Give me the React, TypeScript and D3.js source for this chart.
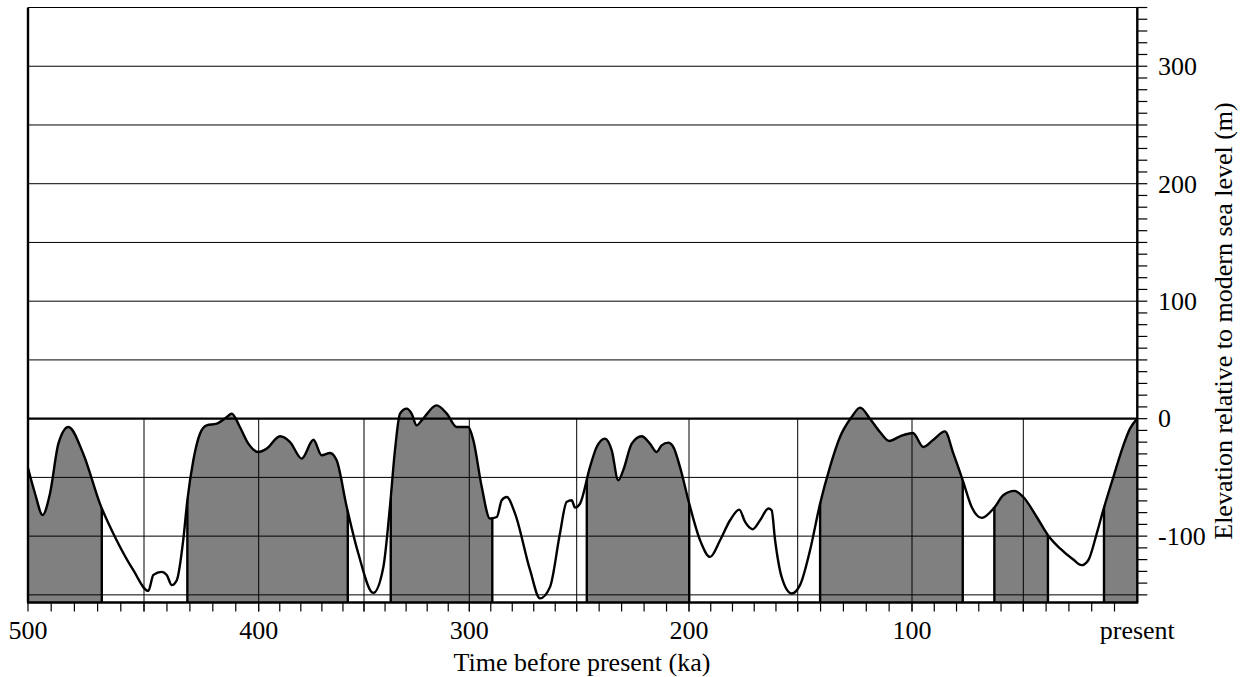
import React from 'react';
import * as d3 from 'd3';

// Time before present (ka) and sea level relative to modern (m)
const ages = [500, 497, 493.7, 490.5, 486.9, 482.6, 476.2, 469, 461.8, 454.6,
  448.1, 445.9, 442.3, 440.1, 437.9, 435.7, 432.9, 431.1, 428.5, 425.6,
  422.7, 418.3, 413.9, 411.8, 408.2, 404.5, 400.2, 396.2, 389.9, 385.1,
  379.6, 374.0, 370.1, 366.1, 363, 358.2, 352.7, 345.6, 340.8, 337.7,
  335.3, 332.9, 329.7, 327.4, 325, 322.6, 315.5, 310.7, 306, 300.5,
  298.1, 294.2, 290.4, 287.2, 284.9, 282.6, 278.7, 271.7, 267.1, 262.4,
  257.8, 254.7, 252.3, 250.8, 248.5, 244.1, 241.1, 237.4, 234.4, 231.5,
  229.3, 225.5, 221.1, 217.4, 214.4, 212.2, 209.2, 207, 204, 199.9,
  194.9, 190.3, 185.7, 181.1, 176.9, 174.2, 170.7, 167.3, 163.5, 162,
  160.4, 157.4, 152.8, 149, 144.6, 140.2, 135.9, 131.5, 126.4, 122.7,
  118.4, 114, 109.9, 105.2, 99.6, 94.9, 90.4, 85.2, 81.4, 77.2,
  73.2, 68.7, 63, 59, 54, 50, 44.1, 39.2, 33.9, 28.1,
  24.4, 21.5, 17.8, 14.6, 10.5, 6.1, 3.2, 0];

const levels = [-42, -63.5, -82, -63.5, -21.3, -7.1, -29.8, -72.3, -103.5, -129,
  -146.6, -133, -130.4, -133, -141.7, -137.5, -103.5, -69.5, -35.4, -12.8,
  -5.7, -4.3, 1.4, 4.3, -7.1, -21.3, -28.4, -25.5, -15, -19.9,
  -34, -18, -31.2, -29.2, -35.5, -75.2, -114.8, -148.3, -126.2, -75.2,
  -27, 4.3, 8.5, 4.3, -5.7, -1.4, 11.3, 4.3, -7.1, -7.1,
  -18.5, -58.2, -85, -83.7, -69.5, -66.7, -80.8, -129, -153, -143.2,
  -97.8, -70.9, -69.5, -75.7, -72.3, -41.2, -24.1, -17, -27, -52.5,
  -44, -21.3, -15, -21.3, -28.4, -22.7, -20.4, -24.1, -41.2, -72.3,
  -103.5, -117.7, -103.5, -86.5, -77.4, -87.9, -94.1, -86.5, -76.5, -78,
  -103.5, -134.7, -148.8, -141.7, -112, -72.3, -41.2, -15.6, 1.4, 9.4,
  0, -11.4, -19, -15, -12.2, -24.1, -17.9, -10.8, -29.8, -52.5,
  -75.2, -84.5, -75.7, -65.2, -61.5, -66.7, -83.7, -99.2, -110.5, -119.9,
  -124.7, -120.5, -97.8, -75.7, -49.7, -22.7, -8.5, 0];

// Shaded (interglacial) intervals, ka
const shadeStart = [500, 431.1, 337.3, 245.5, 140.2, 63, 14.6];
const shadeEnd = [468.2, 357.7, 289.3, 199.9, 77.2, 39.2, 0];

const gridKa = [500, 450, 400, 350, 300, 250, 200, 150, 100, 50, 0];
const xLabelValues = [500, 400, 300, 200, 100, 0];
const xLabelTexts = ['500', '400', '300', '200', '100', 'present'];
const yLabelValues = [300, 200, 100, 0, -100];

const X_TITLE = 'Time before present (ka)';
const Y_TITLE = 'Elevation relative to modern sea level (m)';

export default function App() {
  const W = 1241;
  const H = 677;
  const FONT = '"Liberation Serif", "Times New Roman", serif';
  const FS = 26;

  const x = d3.scaleLinear()
    .domain(gridKa)
    .range([28, 144, 258.7, 364, 469.3, 576.7, 689, 797.7, 912, 1023.3, 1137.3]);
  const yMin = -156.5;
  const yMax = 350;
  const y = d3.scaleLinear().domain([yMin, yMax]).range([602.5, 7.5]);

  const data = ages.map((a, i) => ({ a, v: levels[i] }));
  const line = d3.line<{ a: number; v: number }>()
    .x(d => x(d.a)).y(d => y(d.v)).curve(d3.curveMonotoneX);
  const area = d3.area<{ a: number; v: number }>()
    .x(d => x(d.a)).y0(y(yMin)).y1(d => y(d.v)).curve(d3.curveMonotoneX);

  const xL = x(500);
  const xR = x(0);
  const yB = y(yMin);
  const yT = y(yMax);
  const y0 = y(0);

  const hGrid = d3.range(-150, 301, 50);
  const vGrid = d3.range(50, 451, 50);
  const rTicks = d3.range(-150, 351, 10);
  const bTicks = d3.range(10, 501, 10);
  const boundaries = [...shadeStart, ...shadeEnd].filter(v => v !== 500 && v !== 0);

  return (
    <svg width={W} height={H} style={{ position: 'absolute', left: 0, top: 0, background: '#fff' }}
      fontFamily={FONT}>
      <defs>
        <clipPath id="under">
          <path d={area(data) || ''} />
        </clipPath>
      </defs>
      <rect x={0} y={0} width={W} height={H} fill="#fff" />
      <g clipPath="url(#under)">
        {shadeStart.map((s, i) => (
          <rect key={i} x={x(s)} y={yT} width={x(shadeEnd[i]) - x(s)} height={yB - yT} fill="#808080" />
        ))}
        {boundaries.map((b, i) => (
          <line key={'b' + i} x1={x(b)} x2={x(b)} y1={yT} y2={yB} stroke="#000" strokeWidth={2.4} />
        ))}
      </g>
      {hGrid.map(v => (
        <line key={'h' + v} x1={xL} x2={xR} y1={y(v)} y2={y(v)} stroke="#000"
          strokeWidth={v === 0 ? 2.2 : 1} />
      ))}
      <line x1={xL} x2={xR} y1={yT} y2={yT} stroke="#000" strokeWidth={1.2} />
      {vGrid.map(v => (
        <line key={'v' + v} x1={x(v)} x2={x(v)} y1={y0} y2={yB + 9} stroke="#000" strokeWidth={1} />
      ))}
      {bTicks.map(v => (
        <line key={'bt' + v} x1={x(v)} x2={x(v)} y1={yB} y2={yB + 9} stroke="#000" strokeWidth={1.2} />
      ))}
      {rTicks.map(v => (
        <line key={'rt' + v} x1={xR} x2={xR + 10} y1={y(v)} y2={y(v)} stroke="#000" strokeWidth={1.2} />
      ))}
      <path d={line(data) || ''} fill="none" stroke="#000" strokeWidth={2.4} strokeLinejoin="round" />
      <line x1={xL} x2={xL} y1={yT} y2={yB} stroke="#000" strokeWidth={2.4} />
      <line x1={xR} x2={xR} y1={yT} y2={yB} stroke="#000" strokeWidth={2.4} />
      <line x1={xL - 1} x2={xR + 1} y1={yB} y2={yB} stroke="#000" strokeWidth={2.4} />
      {xLabelValues.map((v, i) => (
        <text key={'xl' + v} x={x(v)} y={639} textAnchor="middle" fontSize={FS} fill="#000">
          {xLabelTexts[i]}
        </text>
      ))}
      {yLabelValues.map(v => (
        <text key={'yl' + v} x={1158} y={y(v) + 8.8} fontSize={FS} fill="#000">{v}</text>
      ))}
      <text x={582} y={671} textAnchor="middle" fontSize={FS} fill="#000">{X_TITLE}</text>
      <text transform={`translate(1232, 321) rotate(-90)`} textAnchor="middle" fontSize={FS} fill="#000">
        {Y_TITLE}
      </text>
    </svg>
  );
}
